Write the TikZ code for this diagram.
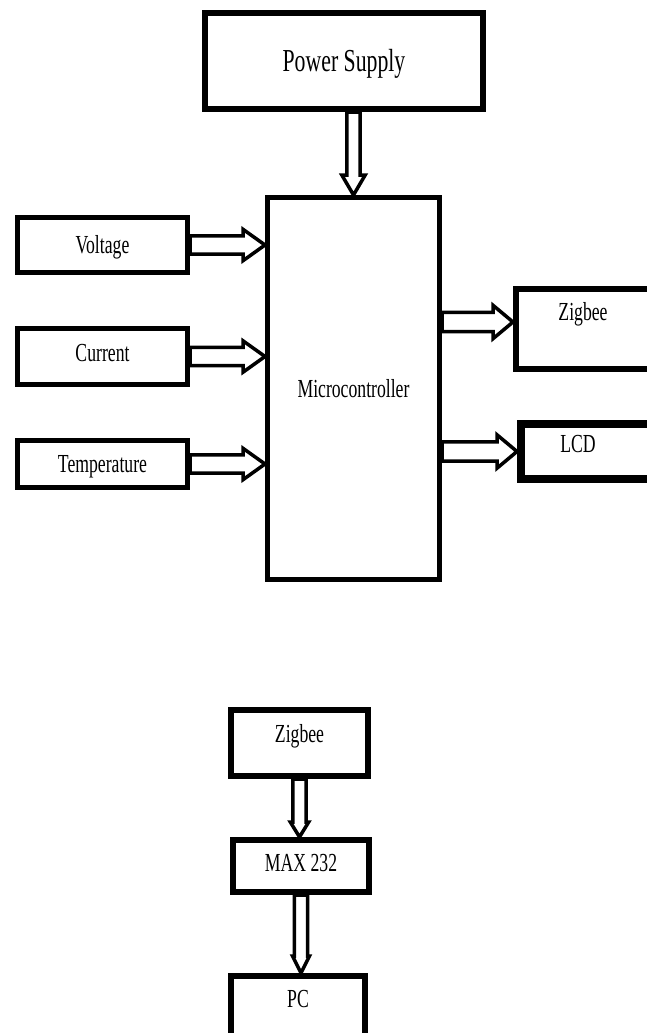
\documentclass[tikz,border=0pt]{standalone}
\usepackage{fontspec}
\setmainfont{Liberation Serif}[FakeStretch=0.68]
\usetikzlibrary{calc, backgrounds}

\tikzset{
  shaft/.store in=\arrsh, headw/.store in=\arrhw, headl/.store in=\arrhl,
  blockarrow/.style={draw, fill=white, line width=3.5pt, shaft=9.2, headw=15.7, headl=22,
    to path={($(\tikztostart)!\arrsh pt!90:(\tikztotarget)$)
      -- ($(\tikztotarget)!\arrhl pt!(\tikztostart)!\arrsh pt!90:(\tikztotarget)$)
      -- ($(\tikztotarget)!\arrhl pt!(\tikztostart)!\arrhw pt!90:(\tikztotarget)$)
      -- (\tikztotarget)
      -- ($(\tikztotarget)!\arrhl pt!(\tikztostart)!-\arrhw pt!90:(\tikztotarget)$)
      -- ($(\tikztotarget)!\arrhl pt!(\tikztostart)!-\arrsh pt!90:(\tikztotarget)$)
      -- ($(\tikztostart)!-\arrsh pt!90:(\tikztotarget)$) -- cycle}},
}

\begin{document}
\begin{tikzpicture}[x=1pt, y=-1pt,
box/.style={draw, line width=#1, inner sep=0pt, align=center, text height=17pt, text depth=0pt, font=\fontsize{26}{28}\selectfont},
box/.default=5pt
]
\useasboundingbox (0,0) rectangle (646,1033);

\node[box=6pt, minimum width=278pt, minimum height=96pt, font=\fontsize{32}{34}\selectfont, text height=21pt] (ps) at (344,61) {Power Supply};
\node[box, minimum width=172pt, minimum height=382pt] (mc) at (353.5,388.5) {Microcontroller};

\node[box, minimum width=170pt, minimum height=55pt] (volt) at (102.5,245) {Voltage};
\node[box, minimum width=170pt, minimum height=56pt, text depth=8pt] (curr) at (102.5,356.5) {Current};
\node[box, minimum width=170pt, minimum height=47pt] (temp) at (102.5,464) {Temperature};

\node[box=6pt, minimum width=134pt, minimum height=80pt, text depth=34pt] (zig) at (583,329) {Zigbee};
\node[box=8pt, minimum width=140pt, minimum height=55pt, text depth=15pt] (lcd) at (591,451.5) {LCD\hspace{26pt}};
\coordinate (zigin) at ([yshift=7pt]zig.west);

% receiver side
\node[box=6pt, minimum width=137pt, minimum height=66pt, text depth=18pt] (zig2) at (299.5,743) {Zigbee};
\node[box=6pt, minimum width=136pt, minimum height=52pt, text depth=6pt] (max) at (301,866) {MAX 232};
\node[box=6pt, minimum width=134pt, minimum height=69pt, text depth=23pt] (pc) at (298,1010.5) {PC};

\begin{scope}[on background layer]
\fill[white] (0,0) rectangle (646,1033);
\draw[blockarrow, shaft=6.6, headw=11.7, headl=20] (mc.north |- ps.south) to (mc.north);
\draw[blockarrow] (volt.east) to (volt.east -| mc.west);
\draw[blockarrow] (curr.east) to (curr.east -| mc.west);
\draw[blockarrow] (temp.east) to (temp.east -| mc.west);
\draw[blockarrow, shaft=9.7, headw=16.7, headl=20] (mc.east |- zigin) to (zigin);
\draw[blockarrow, shaft=9.7, headw=16.7, headl=20] (mc.east |- lcd.west) to (lcd.west);
\draw[blockarrow, shaft=6.7, headw=9.2, headl=15] (zig2.south) to (zig2.south |- max.north);
\draw[blockarrow, shaft=6.7, headw=8.5, headl=17] (max.south) to (max.south |- pc.north);
\end{scope}
\end{tikzpicture}
\end{document}
